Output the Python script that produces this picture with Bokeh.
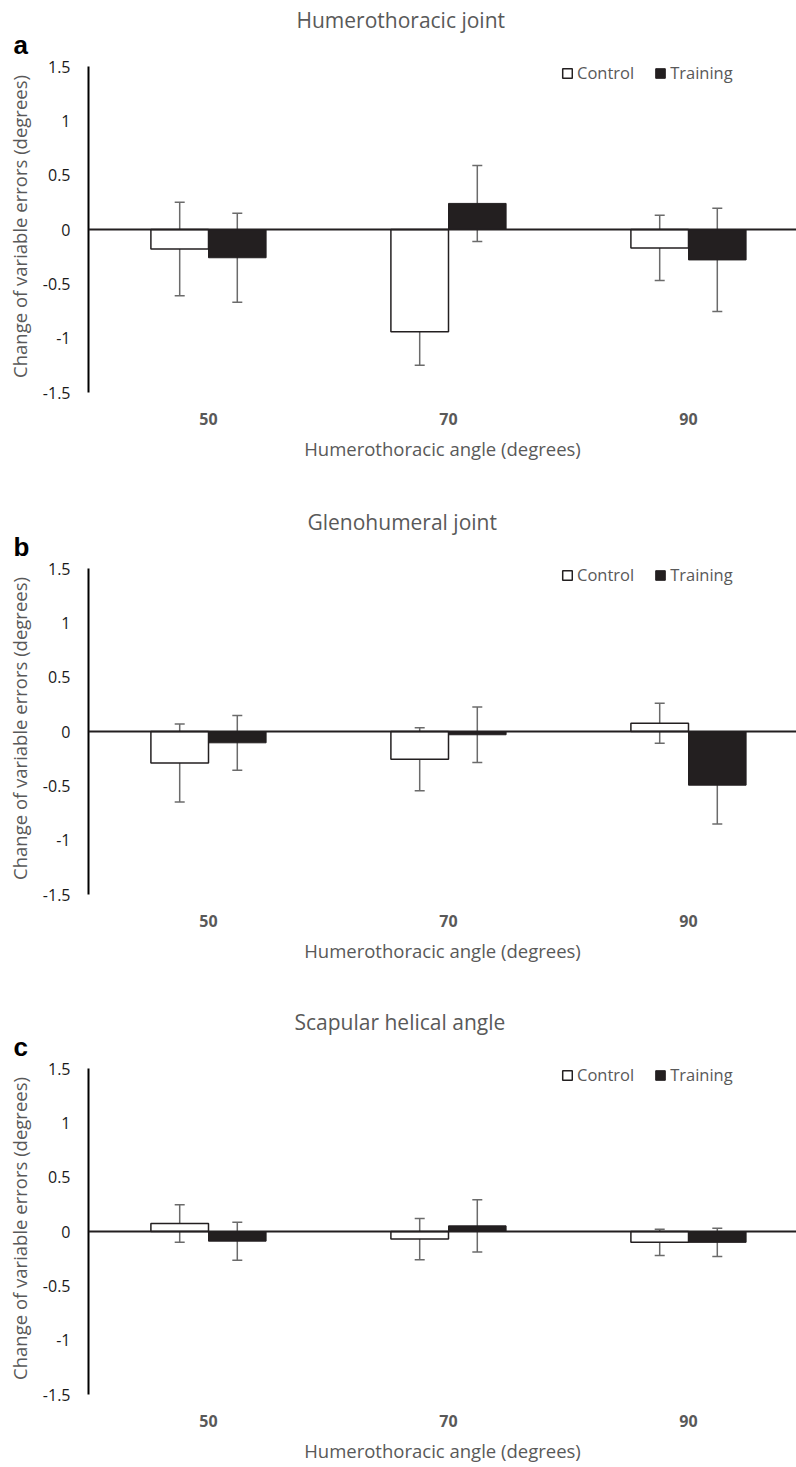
from bokeh.plotting import figure
from bokeh.models import (Range1d, FixedTicker, NumeralTickFormatter, Span, Whisker, TeeHead,
                          ColumnDataSource, Legend, LegendItem, Title)
from bokeh.layouts import column
from bokeh.embed import file_html
from bokeh.resources import INLINE

categories = ["50", "70", "90"]
cat_pos = [0.5, 1.5, 2.5]

panel_titles = ["Humerothoracic joint", "Glenohumeral joint", "Scapular helical angle"]
panel_letters = ["a", "b", "c"]

control_a = [-0.18, -0.94, -0.17]
control_err_a = [0.43, 0.31, 0.30]
training_a = [-0.26, 0.24, -0.28]
training_err_a = [0.41, 0.35, 0.475]

control_b = [-0.29, -0.255, 0.077]
control_err_b = [0.358, 0.29, 0.184]
training_b = [-0.104, -0.03, -0.494]
training_err_b = [0.252, 0.256, 0.358]

control_c = [0.074, -0.07, -0.10]
control_err_c = [0.172, 0.19, 0.12]
training_c = [-0.089, 0.052, -0.10]
training_err_c = [0.175, 0.24, 0.13]

x_title = "Humerothoracic angle (degrees)"
y_title = "Change of variable errors (degrees)"

FONT = "Open Sans"
GRAY = "#595959"
DARK = "#231F20"
ERRC = "#6b6b6b"

FL = 88          # frame left
XMAX = 2.95


def panel(title, title_offset, letter, ctrl, ctrl_err, train, train_err, height, shift=0):
    ft = 60 + shift          # frame top
    ax_top = 66 + shift      # pixel row of y = 1.5
    ax_bot = 392 + shift     # pixel row of y = -1.5
    px_per_unit = (ax_bot - ax_top) / 3.0
    fh = ax_bot - ft
    bottom = height - ft - fh
    y_end = 1.5 + (ax_top - ft) / px_per_unit
    p = figure(width=796, height=height, x_range=Range1d(0, XMAX), y_range=Range1d(-1.5, y_end),
               min_border_left=FL, min_border_right=0, min_border_top=ft, min_border_bottom=bottom,
               output_backend="svg", toolbar_location=None)
    p.outline_line_color = None
    p.grid.visible = False

    # panel title (outermost) and letter (next to the frame)
    p.title.text = title
    p.title.align = "left"
    p.title.offset = title_offset
    p.title.standoff = -10
    p.title.vertical_align = "bottom"
    p.title.text_font = FONT
    p.title.text_font_size = "21px"
    p.title.text_font_style = "normal"
    p.title.text_color = GRAY
    p.add_layout(Title(text=letter, align="left", offset=-75, standoff=0,
                       vertical_align="middle", text_font="Liberation Sans",
                       text_font_style="bold", text_font_size="26px", text_color="black"),
                 "above")

    # y axis
    ya = p.yaxis[0]
    ya.bounds = (-1.5, 1.5)
    ya.ticker = FixedTicker(ticks=[-1.5, -1, -0.5, 0, 0.5, 1, 1.5])
    ya.formatter = NumeralTickFormatter(format="0.[0]")
    ya.axis_line_color = "black"
    ya.axis_line_width = 2
    ya.major_tick_line_color = None
    ya.minor_tick_line_color = None
    ya.major_tick_out = 0
    ya.major_tick_in = 0
    ya.minor_tick_out = 0
    ya.major_label_standoff = 18
    ya.major_label_text_font = FONT
    ya.major_label_text_font_size = "16px"
    ya.major_label_text_color = "#1a1a1a"
    ya.axis_label = y_title
    ya.axis_label_standoff = 8
    ya.axis_label_text_font = FONT
    ya.axis_label_text_font_size = "18.5px"
    ya.axis_label_text_font_style = "normal"
    ya.axis_label_text_color = GRAY

    # x axis
    xa = p.xaxis[0]
    xa.ticker = FixedTicker(ticks=cat_pos)
    xa.major_label_overrides = {pos: lab for pos, lab in zip(cat_pos, categories)}
    xa.axis_line_color = None
    xa.major_tick_line_color = None
    xa.minor_tick_line_color = None
    xa.major_tick_out = 0
    xa.major_tick_in = 0
    xa.minor_tick_out = 0
    xa.major_label_standoff = 20
    xa.major_label_text_font = FONT
    xa.major_label_text_font_style = "bold"
    xa.major_label_text_font_size = "16px"
    xa.major_label_text_color = GRAY
    xa.axis_label = x_title
    xa.axis_label_standoff = 8
    xa.axis_label_text_font = FONT
    xa.axis_label_text_font_size = "18.5px"
    xa.axis_label_text_font_style = "normal"
    xa.axis_label_text_color = GRAY

    w = 0.24
    cx = [c - w / 2 for c in cat_pos]
    tx = [c + w / 2 for c in cat_pos]
    r_ctrl = p.vbar(x=cx, top=ctrl, bottom=0, width=w, fill_color="white",
                    line_color=DARK, line_width=1.5)
    r_train = p.vbar(x=tx, top=train, bottom=0, width=w, fill_color=DARK,
                     line_color=DARK, line_width=1)

    p.add_layout(Span(location=0, dimension="width", line_color=DARK, line_width=2))

    for xs, vals, errs in ((cx, ctrl, ctrl_err), (tx, train, train_err)):
        src = ColumnDataSource(dict(x=xs, upper=[v + e for v, e in zip(vals, errs)],
                                    lower=[v - e for v, e in zip(vals, errs)]))
        wk = Whisker(base="x", upper="upper", lower="lower", source=src, dimension="height",
                     line_color=ERRC, line_width=1.5,
                     upper_head=TeeHead(size=10, line_color=ERRC, line_width=1.5),
                     lower_head=TeeHead(size=10, line_color=ERRC, line_width=1.5))
        p.add_layout(wk)

    legend = Legend(items=[LegendItem(label="Control", renderers=[r_ctrl]),
                           LegendItem(label="Training", renderers=[r_train])],
                    orientation="horizontal", location=(473, 308),
                    glyph_width=12, glyph_height=12, label_standoff=4, spacing=20,
                    padding=0, margin=0, label_text_font=FONT, label_text_font_size="16.5px",
                    label_text_color=GRAY, background_fill_alpha=0, border_line_color=None)
    p.add_layout(legend)
    return p


pa = panel(panel_titles[0], 208, panel_letters[0], control_a, control_err_a, training_a, training_err_a, 502)
pb = panel(panel_titles[1], 219, panel_letters[1], control_b, control_err_b, training_b, training_err_b, 502)
pc = panel(panel_titles[2], 206, panel_letters[2], control_c, control_err_c, training_c, training_err_c, 463, shift=-2)

layout = column(pa, pb, pc, spacing=0)
open("out.html", "w").write(file_html(layout, INLINE))
